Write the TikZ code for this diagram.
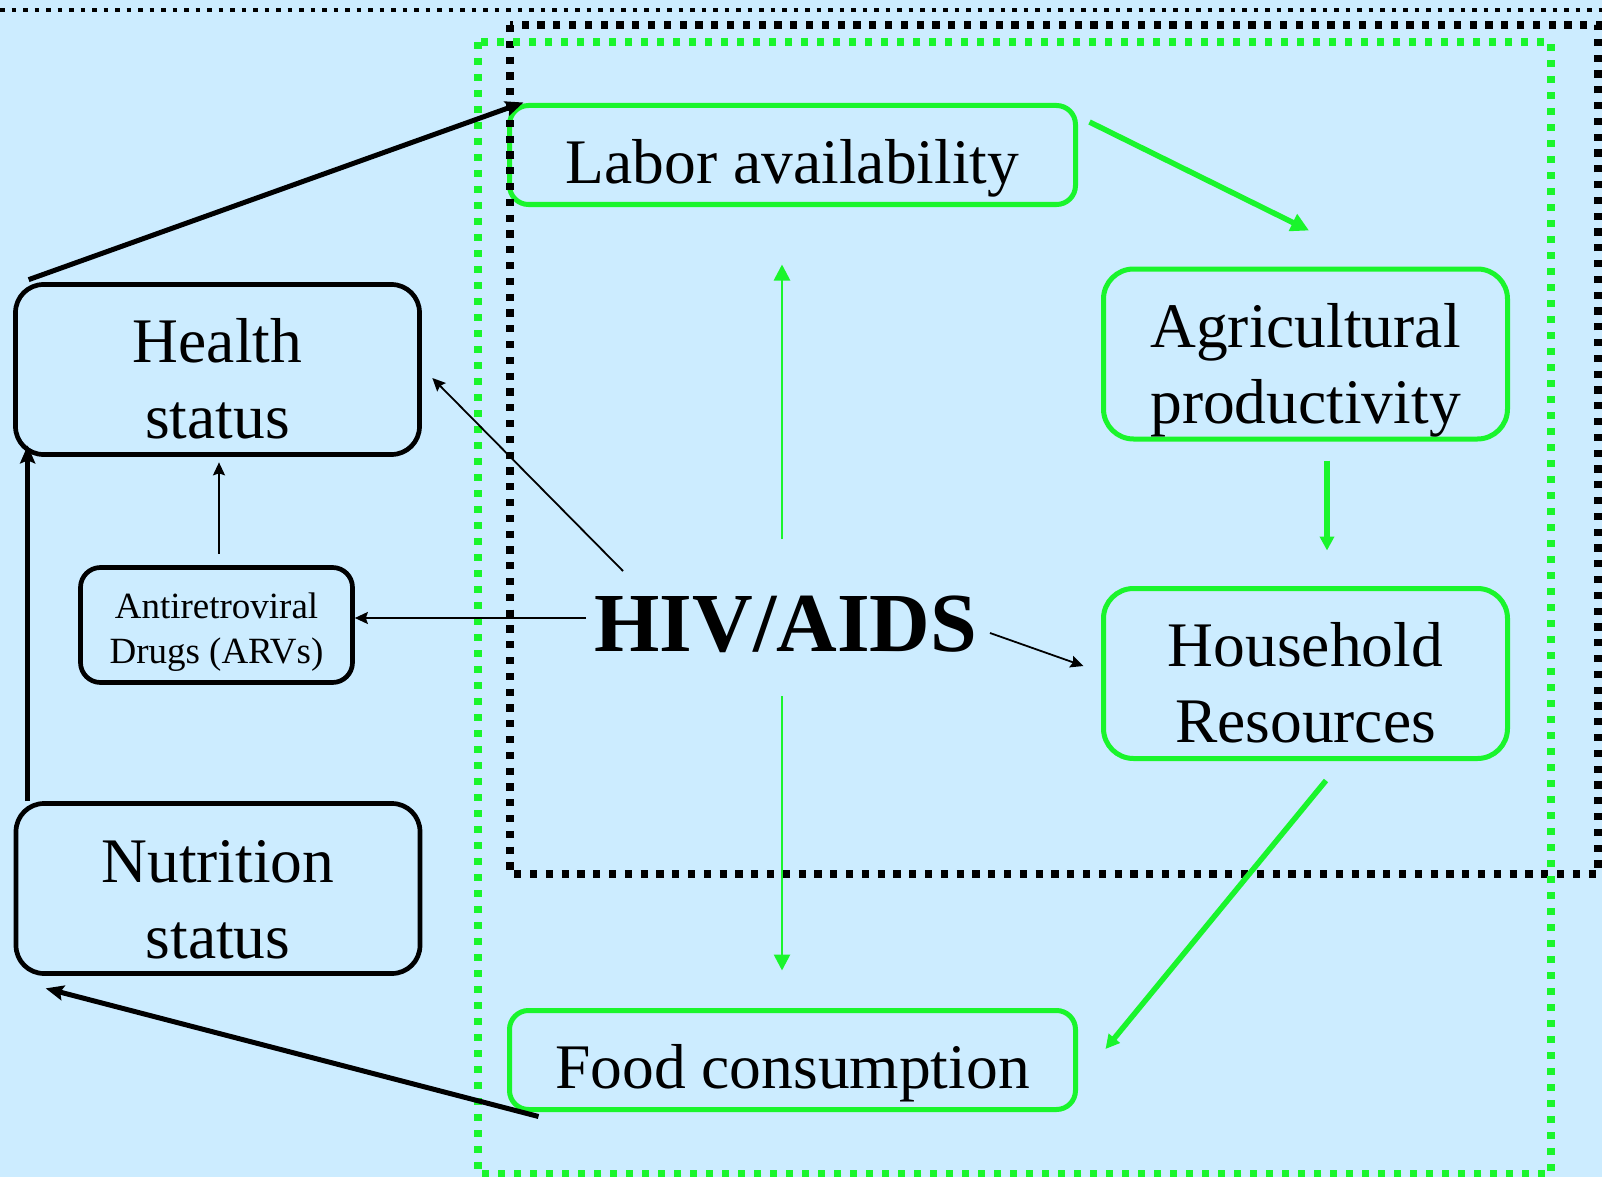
\documentclass[tikz,border=0pt]{standalone}
\usepackage{fontspec}
\setmainfont{Liberation Serif}
\usepackage{tikz}
\usetikzlibrary{arrows.meta,calc}

\definecolor{skyback}{RGB}{204,236,255}
\definecolor{boxgreen}{RGB}{26,245,44}
\newcommand{\bigtext}{\fontsize{31.75}{38}\selectfont}
\newcommand{\smalltext}{\fontsize{18.5}{22.5}\selectfont}
\newcommand{\hivtext}{\fontsize{42}{50}\selectfont\bfseries}

\begin{document}
\begin{tikzpicture}[x=0.5pt,y=-0.5pt,
    gbox/.style={draw=boxgreen,line width=2.5pt,inner sep=0pt},
    kbox/.style={draw=black,line width=2.35pt,inner sep=0pt},
    tall/.style={minimum width=202pt,minimum height=85pt,rounded corners=14pt},
    wide/.style={minimum width=283pt,minimum height=49.5pt,rounded corners=9.5pt},
    txt/.style={align=center,inner sep=0pt,font=\bigtext},
    heavy/.style={line width=2.5pt,-{Stealth[length=9pt,width=7.5pt,inset=1.5pt]}},
    fine/.style={line width=0.9pt,-{Stealth[length=6.5pt,width=6pt,inset=1pt]}},
    gfine/.style={color=boxgreen,line width=1.35pt,-{Triangle[length=8pt,width=8pt]}},
    gheavy/.style={color=boxgreen,line width=2.75pt,-{Triangle[length=7pt,width=7pt]}},
    topdots/.style={line width=2pt,dash pattern=on 2.3pt off 3.45pt},
    kdots/.style={line width=3.8pt,dash pattern=on 3.6pt off 4.3pt},
    gdots/.style={draw=boxgreen,line width=4pt,dash pattern=on 3.7pt off 4.3pt}]

    \path[fill=skyback,use as bounding box] (0,0) rectangle (1602,1177);

    % boxes
    \node[gbox,wide]               (labor)     at (792.5,155)  {};
    \node[gbox,tall,rounded corners=15pt] (agri)  at (1305.5,354) {};
    \node[gbox,tall,rounded corners=15pt] (household) at (1305.5,673.5) {};
    \node[gbox,wide]               (food)      at (792.5,1060) {};
    \node[kbox,tall]               (health)    at (217.5,369.5) {};
    \node[kbox,tall]               (nutrition) at (218,888.5)  {};
    \node[kbox,minimum width=136pt,minimum height=57.5pt,rounded corners=10pt]
                                   (arv)       at (216.5,625)  {};

    % frames
    \draw[topdots] (0,10) -- (1602,10);
    \draw[kdots] (510,25) rectangle (1598,874);
    \draw[gdots] (478,42) rectangle (1551,1174);

    % texts
    \node[txt,yshift=-6.5pt] (labor-t)     at (labor.center)     {Labor availability\strut};
    \node[txt,yshift=-8pt]   (agri-t)      at (agri.center)      {Agricultural\strut\\productivity\strut};
    \node[txt,yshift=-8pt]   (household-t) at (household.center) {Household\strut\\Resources\strut};
    \node[txt,yshift=-6.5pt] (food-t)      at (food.center)      {Food consumption\strut};
    \node[txt,yshift=-8pt]   (health-t)    at (health.center)    {Health\strut\\status\strut};
    \node[txt,yshift=-8.5pt] (nutrition-t) at (nutrition.center) {Nutrition\strut\\status\strut};
    \node[txt,font=\smalltext,yshift=-3.25pt] (arv-t) at (arv.center) {Antiretroviral\strut\\Drugs (ARVs)\strut};
    \node[inner sep=0pt,anchor=base,font=\hivtext] (hiv) at (786,651) {HIV/AIDS};

    % connectors
    \path
      ($(hiv.base)+(-163,-80)$) edge[fine]  ($(health.east)+(10.5,8.5)$)
      ($(hiv.base)+(-200,-33)$) edge[fine]  ($(arv.east)+(0,-7)$)
      ($(hiv.base)+(204,-18)$)  edge[fine]  ($(household.west)+(-17.5,-7.5)$)
      ($(hiv.base)+(-4,-112)$)  edge[gfine] ($(labor.south)+(-10.5,57.5)$)
      ($(hiv.base)+(-4,45)$)    edge[gfine] ($(food.north)+(-10.5,-37.5)$);
    \path
      ($(labor.east)+(11.5,-33)$)      edge[gheavy,-{Triangle[length=9pt,width=9pt]}] ($(agri.north)+(3.5,-36)$)
      ($(agri.south)+(21.5,19)$)       edge[gheavy] ($(household.north)+(21.5,-35.5)$)
      ($(household.south)+(20.5,19.5)$) edge[gheavy] ($(food.east)+(27.5,-11)$);
    \path
      ($(arv.north)+(2.5,-11.5)$)        edge[fine]  ($(health.south)+(1.5,5.5)$)
      ($(health.north west)+(15.5,-2.5)$) edge[heavy] ($(labor.north west)+(16.5,-0.5)$)
      ($(nutrition.north west)+(14,0)$)  edge[heavy] ($(health.south west)+(14.5,-11.5)$)
      ($(food.south west)+(31.5,4.5)$)   edge[heavy] ($(nutrition.south west)+(32,12.5)$);
\end{tikzpicture}
\end{document}
